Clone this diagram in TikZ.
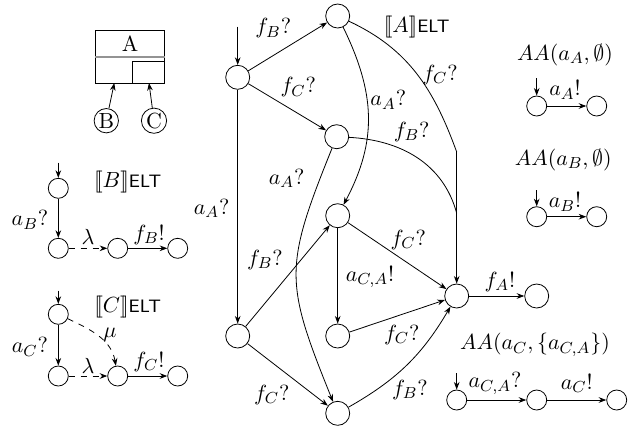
\documentclass[tikz,border=0pt,11pt]{standalone}
\usepackage{amssymb}
\usepackage{tikz}
\usetikzlibrary{positioning,arrows.meta}
\newcommand{\semb}[1]{$[\![#1]\!]$\textsf{\footnotesize ELT}}
\tikzset{
    eltstate/.style={draw, circle, minimum size=12pt, inner sep=0pt},
    eltsmall/.style={draw, circle, minimum size=10pt, inner sep=0pt},
    eltcomp/.style={draw, circle, minimum size=12pt, inner sep=0.5pt},
    eltarrow/.style={draw, -{Stealth[length=3.8pt,width=2.8pt]}},
    eltdash/.style={draw, dashed, -{Stealth[length=3.8pt,width=2.8pt]}},
    eltlabel/.style={inner sep=0pt}
}
\begin{document}
\begin{tikzpicture}[x=0.5pt,y=0.5pt]
    \useasboundingbox (0,0) rectangle (632,-430);

    \node[draw, minimum width=34.3pt, minimum height=26.35pt, inner sep=0pt] (boxA) at (130,-56.7) {};
    \draw[gray!85, line width=0.9pt] (boxA.west) -- (boxA.east);
    \draw (132.7,-83) |- (164.3,-61.7);
    \node[eltlabel] (nameA) at (130,-44) {A};
    \node[eltcomp] (compB) at (106.3,-120.7) {B};
    \node[eltcomp] (compC) at (154,-120.7) {C};
    \coordinate (inB) at (114.3,-83);
    \coordinate (inC) at (149,-83);
    \draw[eltarrow] (compB) -- (inB);
    \draw[eltarrow] (compC) -- (inC);

    \node[eltsmall] (b1) at (58.3,-188.3) {};
    \node[eltsmall] (b2) at (58.3,-248.3) {};
    \node[eltsmall] (b3) at (117.7,-248.3) {};
    \node[eltsmall] (b4) at (177.7,-248.3) {};
    \coordinate (bstart) at (58.3,-162.7);
    \node[eltlabel] (bname) at (127.7,-181.7) {\semb{B}};
    \draw[eltarrow] (bstart) -- (b1);
    \draw[eltarrow] (b1) -- (b2);
    \draw[eltdash] (b2) -- (b3);
    \draw[eltarrow] (b3) -- (b4);
    \node[eltlabel] at (30,-220) {$a_B?$};
    \node[eltlabel] at (88,-236.7) {$\lambda$};
    \node[eltlabel] at (149,-235) {$f_B!$};

    \node[eltsmall] (c1) at (58.3,-314.3) {};
    \node[eltsmall] (c2) at (58.3,-376) {};
    \node[eltsmall] (c3) at (117.7,-376) {};
    \node[eltsmall] (c4) at (177.7,-376) {};
    \coordinate (cstart) at (58.3,-290.7);
    \node[eltlabel] (cname) at (127.7,-306.7) {\semb{C}};
    \draw[eltarrow] (cstart) -- (c1);
    \draw[eltarrow] (c1) -- (c2);
    \draw[eltdash] (c2) -- (c3);
    \draw[eltdash] (c1) to[out=-25, in=100] (c3);
    \draw[eltarrow] (c3) -- (c4);
    \node[eltlabel] at (30,-346.7) {$a_C?$};
    \node[eltlabel] at (88,-366) {$\lambda$};
    \node[eltlabel] at (110,-335) {$\mu$};
    \node[eltlabel] at (149,-361.7) {$f_C!$};

    \node[eltstate] (s0) at (237.7,-77.3) {};
    \node[eltstate] (top) at (337.7,-16) {};
    \node[eltstate] (mid) at (336.7,-136.7) {};
    \node[eltstate] (cen) at (337.7,-215.7) {};
    \node[eltstate] (low) at (337.7,-336) {};
    \node[eltstate] (left) at (237.7,-336) {};
    \node[eltstate] (bot) at (337.7,-413.3) {};
    \node[eltstate] (fin) at (456.7,-296) {};
    \node[eltstate] (done) at (536.7,-296) {};
    \coordinate (astart) at (237.7,-26.7);
    \coordinate (join1) at (456.7,-152);
    \coordinate (join2) at (456.7,-213.3);
    \node[eltlabel] (aname) at (416.7,-26.7) {\semb{A}};

    \draw[eltarrow] (astart) -- (s0);
    \draw[eltarrow] (s0) -- (top);
    \draw[eltarrow] (s0) -- (mid);
    \draw[eltarrow] (s0) -- (left);
    \draw[eltarrow] (top) to[out=-64, in=62, looseness=1.05] (cen);
    \draw (top) to[out=-25, in=110] (join1);
    \draw (mid) to[out=-3, in=105] (join2);
    \draw[eltarrow] (join1) -- (fin);
    \draw[eltarrow] (mid) to[out=-112, in=112, looseness=1.3] (bot);
    \draw[eltarrow] (cen) -- (fin);
    \draw[eltarrow] (cen) -- (low);
    \draw[eltarrow] (low) -- (fin);
    \draw[eltarrow] (left) -- (cen);
    \draw[eltarrow] (left) -- (bot);
    \draw[eltarrow] (bot) to[bend right=15] (fin);
    \draw[eltarrow] (fin) -- (done);

    \node[eltlabel] at (273.3,-28.3) {$f_B?$};
    \node[eltlabel] at (298.3,-87.3) {$f_C?$};
    \node[eltlabel] at (440,-75) {$f_C?$};
    \node[eltlabel] at (388.3,-100) {$a_A?$};
    \node[eltlabel] at (411.7,-131.7) {$f_B?$};
    \node[eltlabel] at (286.7,-178.3) {$a_A?$};
    \node[eltlabel] at (211.7,-208.3) {$a_A?$};
    \node[eltlabel] at (265,-260) {$f_B?$};
    \node[eltlabel] at (370,-276.7) {$a_{C,A}!$};
    \node[eltlabel] at (408.3,-240) {$f_C?$};
    \node[eltlabel] at (401.7,-335) {$f_C?$};
    \node[eltlabel] at (271.7,-395) {$f_C?$};
    \node[eltlabel] at (410,-390) {$f_B?$};
    \node[eltlabel] at (500,-281.7) {$f_A!$};

    \node[eltlabel] (aaA) at (565,-55) {$AA(a_A,\emptyset)$};
    \node[eltsmall] (aa1) at (536.7,-106) {};
    \node[eltsmall] (aa2) at (596.7,-106) {};
    \coordinate (aastart) at (536.7,-78);
    \draw[eltarrow] (aastart) -- (aa1);
    \draw[eltarrow] (aa1) -- (aa2);
    \node[eltlabel] at (565,-90) {$a_A!$};

    \node[eltlabel] (aaB) at (563.3,-160) {$AA(a_B,\emptyset)$};
    \node[eltsmall] (ab1) at (536.7,-216.7) {};
    \node[eltsmall] (ab2) at (596.7,-216.7) {};
    \coordinate (abstart) at (536.7,-190);
    \draw[eltarrow] (abstart) -- (ab1);
    \draw[eltarrow] (ab1) -- (ab2);
    \node[eltlabel] at (565,-201.7) {$a_B!$};

    \node[eltlabel] (aaC) at (535,-345) {$AA(a_C,\{a_{C,A}\})$};
    \node[eltsmall] (ac1) at (456.7,-400) {};
    \node[eltsmall] (ac2) at (536.7,-400) {};
    \node[eltsmall] (ac3) at (616.7,-400) {};
    \coordinate (acstart) at (456.7,-373.3);
    \draw[eltarrow] (acstart) -- (ac1);
    \draw[eltarrow] (ac1) -- (ac2);
    \draw[eltarrow] (ac2) -- (ac3);
    \node[eltlabel] at (495,-383.3) {$a_{C,A}?$};
    \node[eltlabel] at (576.7,-383.3) {$a_C!$};
\end{tikzpicture}
\end{document}
